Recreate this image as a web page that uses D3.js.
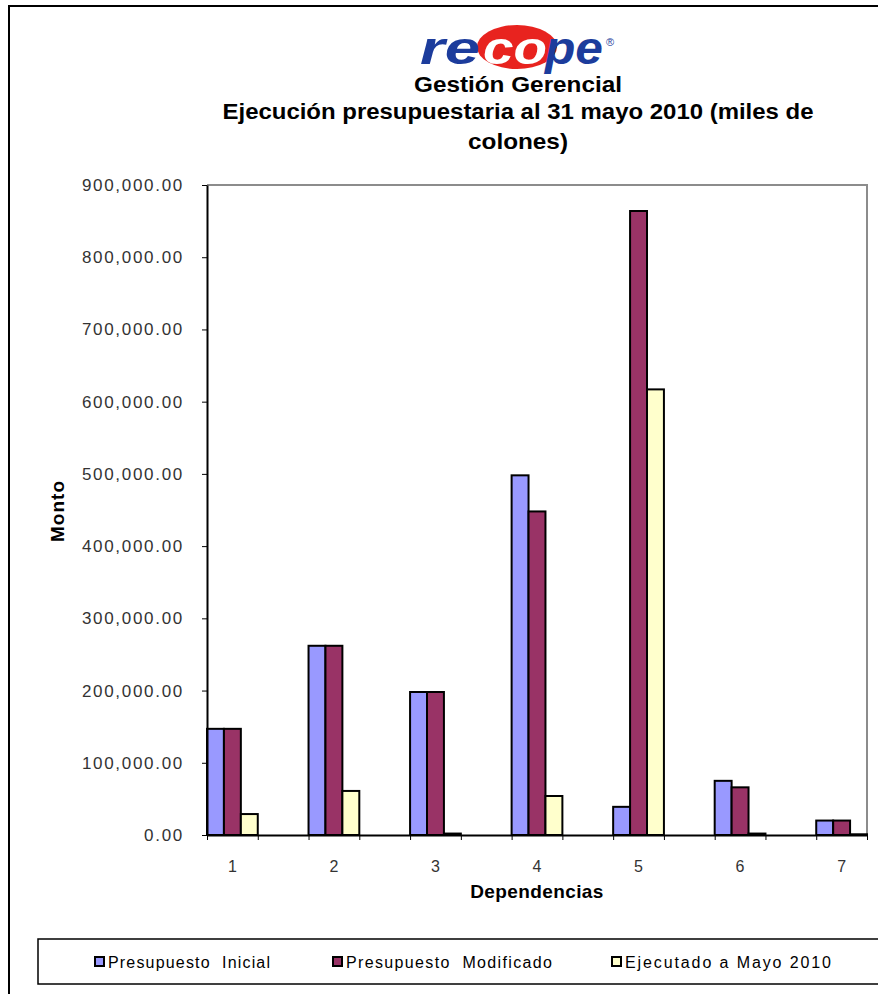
<!DOCTYPE html>
<html><head><meta charset="utf-8">
<script src="https://cdn.jsdelivr.net/npm/d3@7"></script>
<style>body{margin:0;background:#fff}svg{display:block}text{font-family:"Liberation Sans",Arial,sans-serif}</style>
</head><body>
<script>
const categories = ["1","2","3","4","5","6","7"];
const seriesNames = ["Presupuesto  Inicial","Presupuesto  Modificado","Ejecutado a Mayo 2010"];
const presupuestoInicial = [147000, 262000, 198000, 498000, 39000, 75000, 20000];
const presupuestoModificado = [147000, 262000, 198000, 448000, 864000, 66000, 20000];
const ejecutadoMayo = [29000, 61000, 2000, 54000, 617000, 2000, 1000];
const yTicks = [0,100000,200000,300000,400000,500000,600000,700000,800000,900000];
const colors = ["#9999FF","#993366","#FFFFCC"];
const series = [presupuestoInicial, presupuestoModificado, ejecutadoMayo];

const W = 878, H = 994;
const svg = d3.select("body").append("svg").attr("width", W).attr("height", H);

// outer frame
svg.append("path").attr("d","M9,995 V6 H880").attr("fill","none").attr("stroke","#000").attr("stroke-width",2);

// logo
const logo = svg.append("g");
logo.append("ellipse").attr("cx",517).attr("cy",47).attr("rx",40).attr("ry",22).attr("fill","#E8231F");
logo.append("text").attr("x",420).attr("y",64).attr("font-size",46).attr("font-weight","bold").attr("font-style","italic")
  .attr("fill","#1C3C9C").attr("textLength",60).attr("lengthAdjust","spacingAndGlyphs").text("re");
logo.append("text").attr("x",483).attr("y",64).attr("font-size",46).attr("font-weight","bold").attr("font-style","italic")
  .attr("fill","#fff").attr("textLength",64).attr("lengthAdjust","spacingAndGlyphs").text("co");
logo.append("text").attr("x",545).attr("y",64).attr("font-size",46).attr("font-weight","bold").attr("font-style","italic")
  .attr("fill","#1C3C9C").attr("textLength",58).attr("lengthAdjust","spacingAndGlyphs").text("pe");
logo.append("text").attr("x",606).attr("y",46).attr("font-size",11).attr("fill","#1C3C9C").text("®");

// titles
const titleLines = ["Gestión Gerencial","Ejecución presupuestaria al 31 mayo 2010 (miles de","colones)"];
const titleY = [92, 119, 149];
const titleW = [208, 591, 100];
titleLines.forEach((t,i)=>{
  svg.append("text").attr("x",518).attr("y",titleY[i]).attr("text-anchor","middle")
    .attr("font-size",22).attr("font-weight","bold").attr("fill","#000")
    .attr("textLength",titleW[i]).attr("lengthAdjust","spacingAndGlyphs").text(t);
});

const pL = 207, pR = 867, pT = 185, pB = 835;
const y = d3.scaleLinear().domain([0,900000]).range([pB, pT]);
const xs = d3.scaleLinear().domain([0,13]).range([pL, pR]);

// plot border (top & right gray)
svg.append("path").attr("d",`M${pL},${pT} H${pR} V${pB}`).attr("fill","none").attr("stroke","#8c8c8c").attr("stroke-width",2);

// bars
series.forEach((vals,s)=>{
  svg.append("g").selectAll("rect").data(vals).join("rect")
    .attr("x",(d,i)=>xs(2*i + s/3))
    .attr("width", xs(1/3)-xs(0))
    .attr("y", d=>y(d))
    .attr("height", d=>y(0)-y(d))
    .attr("fill", colors[s])
    .attr("stroke","#000").attr("stroke-width",2);
});

// y axis
const yAxis = svg.append("g").attr("transform",`translate(${pL},0)`)
  .call(d3.axisLeft(y).tickValues(yTicks).tickFormat(d3.format(",.2f")).tickSize(5).tickSizeOuter(0).tickPadding(18));
yAxis.select(".domain").attr("stroke","#000").attr("stroke-width",2);
yAxis.selectAll(".tick line").attr("stroke","#000");
yAxis.selectAll("text").attr("font-size",17).attr("fill","#333").attr("letter-spacing","1.7px")
  .attr("font-family","'Liberation Sans',Arial,sans-serif");

// x axis
const xAxis = svg.append("g").attr("transform",`translate(0,${pB})`)
  .call(d3.axisBottom(xs).tickValues(d3.range(0,14)).tickFormat("").tickSize(5).tickSizeOuter(0));
xAxis.select(".domain").attr("stroke","#000").attr("stroke-width",2);
xAxis.selectAll(".tick line").attr("stroke","#000");
svg.append("g").selectAll("text").data(categories).join("text")
  .attr("x",(d,i)=>xs(2*i+0.5)).attr("y",872).attr("text-anchor","middle")
  .attr("font-size",16).attr("fill","#333").text(d=>d);

// axis titles
svg.append("text").attr("x",537).attr("y",898).attr("text-anchor","middle")
  .attr("font-size",19).attr("font-weight","bold").attr("fill","#000").attr("letter-spacing","0.4px").text("Dependencias");
svg.append("text").attr("transform","translate(64,511) rotate(-90)").attr("text-anchor","middle")
  .attr("font-size",19).attr("font-weight","bold").attr("fill","#000").attr("letter-spacing","1px").text("Monto");

// legend
svg.append("rect").attr("x",38).attr("y",939).attr("width",860).attr("height",45)
  .attr("fill","#fff").attr("stroke","#000").attr("stroke-width",1.5);
const legX = [95, 333, 612];
const legW = [162, 206, 206];
seriesNames.forEach((n,i)=>{
  svg.append("rect").attr("x",legX[i]).attr("y",957).attr("width",9).attr("height",9)
    .attr("fill",colors[i]).attr("stroke","#000").attr("stroke-width",2);
  svg.append("text").attr("x",legX[i]+13).attr("y",968).attr("font-size",16).attr("fill","#000")
    .attr("xml:space","preserve").style("white-space","pre")
    .attr("textLength",legW[i]).attr("lengthAdjust","spacing").text(n);
});
</script>
</body></html>
